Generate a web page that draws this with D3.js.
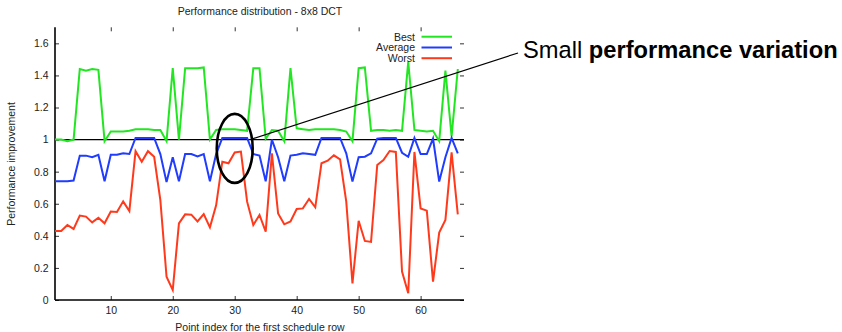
<!DOCTYPE html>
<html>
<head>
<meta charset="utf-8">
<script src="https://cdn.jsdelivr.net/npm/d3@7"></script>
<style>
  html, body { margin: 0; padding: 0; background: #fff; }
  svg { display: block; font-family: "Liberation Sans", Arial, Helvetica, sans-serif; }
</style>
</head>
<body>
<svg id="chart" width="842" height="332"></svg>
<script>
// ---- data ----
const pointIndex = d3.range(1, 67);
const best = [1.0, 1.0, 0.99, 1.0, 1.44, 1.43, 1.44, 1.435, 0.99, 1.05,
  1.05, 1.05, 1.055, 1.065, 1.065, 1.065, 1.06, 1.06, 0.99, 1.445,
  1.0, 1.445, 1.445, 1.445, 1.45, 1.0, 1.06, 1.065, 1.065, 1.065,
  1.06, 1.055, 1.445, 1.445, 1.005, 1.06, 1.055, 0.99, 1.445, 1.07,
  1.065, 1.06, 1.065, 1.065, 1.065, 1.065, 1.06, 1.05, 0.99, 1.445,
  1.45, 1.055, 1.06, 1.06, 1.055, 1.06, 1.055, 1.485, 1.06, 1.055,
  1.05, 1.055, 0.99, 1.43, 1.02, 1.44];
const average = [0.74, 0.74, 0.74, 0.745, 0.9, 0.9, 0.89, 0.905, 0.74, 0.905,
  0.905, 0.915, 0.91, 1.01, 1.01, 1.01, 1.01, 0.91, 0.735, 0.89,
  0.74, 0.91, 0.91, 0.895, 0.91, 0.74, 0.91, 1.01, 1.01, 1.01,
  1.01, 1.01, 0.91, 0.9, 0.74, 1.0, 0.89, 0.74, 0.9, 0.905,
  0.915, 0.91, 0.905, 1.01, 1.01, 1.01, 1.01, 0.914, 0.738, 0.89,
  0.893, 0.914, 1.006, 1.01, 1.01, 1.01, 0.918, 0.893, 1.01, 0.91,
  0.91, 1.006, 0.738, 0.89, 1.01, 0.914];
const worst = [0.43, 0.43, 0.468, 0.443, 0.526, 0.52, 0.484, 0.513, 0.478, 0.551,
  0.549, 0.615, 0.555, 0.928, 0.862, 0.928, 0.893, 0.623, 0.145, 0.062,
  0.478, 0.534, 0.532, 0.49, 0.536, 0.453, 0.59, 0.862, 0.852, 0.92,
  0.925, 0.613, 0.468, 0.53, 0.426, 0.914, 0.54, 0.472, 0.49, 0.567,
  0.571, 0.63, 0.578, 0.852, 0.868, 0.902, 0.877, 0.613, 0.104, 0.494,
  0.368, 0.362, 0.842, 0.873, 0.929, 0.923, 0.177, 0.042, 0.923, 0.571,
  0.557, 0.114, 0.42, 0.499, 0.92, 0.534];
const seriesNames = ["Best", "Average", "Worst"];
const seriesColors = ["#22e622", "#1f3cff", "#ff3a1c"];
const xTicks = [10, 20, 30, 40, 50, 60];
const yTicks = [0, 0.2, 0.4, 0.6, 0.8, 1, 1.2, 1.4, 1.6];
const yTickLabels = ["0", "0.2", "0.4", "0.6", "0.8", "1", "1.2", "1.4", "1.6"];
const referenceLevel = 1;
const titleText = "Performance distribution - 8x8 DCT";
const xLabelText = "Point index for the first schedule row";
const yLabelText = "Performance improvement";
const highlightRange = [28, 32];   // points inside the marked ellipse
const annotationPlain = "Small ";
const annotationBold = "performance variation";

// ---- layout ----
const svg = d3.select("#chart");
const pLeft = 55, pRight = 464, pTop = 27.3, pBottom = 300;
const x = d3.scaleLinear().domain([1, 67]).range([pLeft, pRight]);
const y = d3.scaleLinear().domain([0, 1.7]).range([pBottom, pTop]);
const fs = "10.5px";

// title
svg.append("text").attr("x", 260).attr("y", 15).attr("text-anchor", "middle")
  .style("font-size", fs).attr("fill", "#222").text(titleText);

// axes
const yAxis = d3.axisLeft(y).tickValues(yTicks)
  .tickFormat((d, i) => yTickLabels[i]).tickSize(-4).tickPadding(6.5);
const gy = svg.append("g").attr("transform", `translate(${pLeft},0)`).call(yAxis);
gy.select(".domain").remove();
const xAxis = d3.axisBottom(x).tickValues(xTicks).tickSize(-4).tickPadding(7);
const gx = svg.append("g").attr("transform", `translate(0,${pBottom})`).call(xAxis);
gx.select(".domain").remove();
[gx, gy].forEach(g => {
  g.selectAll("text").style("font-size", fs).style("font-family", "Liberation Sans, Arial, sans-serif").attr("fill", "#222");
  g.selectAll("line").attr("stroke", "#333").attr("stroke-width", 1);
});
// mirrored ticks (top and right)
const yAxisR = d3.axisRight(y).tickValues(yTicks).tickFormat("").tickSize(-4);
const gyr = svg.append("g").attr("transform", `translate(${pRight},0)`).call(yAxisR);
gyr.select(".domain").remove();
gyr.selectAll("line").attr("stroke", "#333");
const xAxisT = d3.axisTop(x).tickValues(xTicks).tickFormat("").tickSize(-4);
const gxt = svg.append("g").attr("transform", `translate(0,${pTop})`).call(xAxisT);
gxt.select(".domain").remove();
gxt.selectAll("line").attr("stroke", "#333");

// axis border lines (left and bottom)
svg.append("line").attr("x1", pLeft).attr("x2", pLeft).attr("y1", pTop).attr("y2", pBottom)
  .attr("stroke", "#000").attr("stroke-width", 1.6);
svg.append("line").attr("x1", pLeft).attr("x2", pRight).attr("y1", pBottom).attr("y2", pBottom)
  .attr("stroke", "#000").attr("stroke-width", 1.6);

// reference line at 1
svg.append("line").attr("x1", pLeft).attr("x2", pRight)
  .attr("y1", y(referenceLevel)).attr("y2", y(referenceLevel))
  .attr("stroke", "#000").attr("stroke-width", 1.4);

// series lines
const line = d3.line().x((d, i) => x(pointIndex[i])).y(d => y(d));
[best, average, worst].forEach((s, k) => {
  svg.append("path").datum(s).attr("d", line)
    .attr("fill", "none").attr("stroke", seriesColors[k])
    .attr("stroke-width", 2).attr("stroke-linejoin", "miter");
});

// legend
const legendY = [36.7, 47.5, 58.2];
seriesNames.forEach((n, k) => {
  svg.append("text").attr("x", 415).attr("y", legendY[k] + 3.8).attr("text-anchor", "end")
    .style("font-size", fs).attr("fill", "#222").text(n);
  svg.append("line").attr("x1", 421.5).attr("x2", 452).attr("y1", legendY[k]).attr("y2", legendY[k])
    .attr("stroke", seriesColors[k]).attr("stroke-width", 2);
});

// axis labels
svg.append("text").attr("x", 260).attr("y", 331).attr("text-anchor", "middle")
  .style("font-size", fs).attr("fill", "#222").text(xLabelText);
svg.append("text").attr("transform", "translate(15,164) rotate(-90)").attr("text-anchor", "middle")
  .style("font-size", fs).attr("fill", "#222").text(yLabelText);

// annotation ellipse around the highlighted range
const ex0 = x(highlightRange[0] - 0.9), ex1 = x(highlightRange[1] + 0.9);
const ecx = (ex0 + ex1) / 2, erx = (ex1 - ex0) / 2;
const ecy = y(0.945), ery = (y(0.73) - y(1.16)) / 2;
svg.append("ellipse").attr("cx", ecx).attr("cy", ecy).attr("rx", erx).attr("ry", ery)
  .attr("fill", "none").attr("stroke", "#000").attr("stroke-width", 2.6);
svg.append("line").attr("x1", ecx + erx - 1).attr("y1", y(referenceLevel) - 0.5)
  .attr("x2", 518).attr("y2", 53).attr("stroke", "#000").attr("stroke-width", 1.2);
const ann = svg.append("text").attr("x", 523).attr("y", 57.5)
  .style("font-size", "23.7px").style("font-family", "Liberation Sans, Arial, sans-serif").attr("fill", "#000");
ann.append("tspan").text(annotationPlain);
ann.append("tspan").attr("font-weight", "bold").text(annotationBold);
</script>
</body>
</html>
